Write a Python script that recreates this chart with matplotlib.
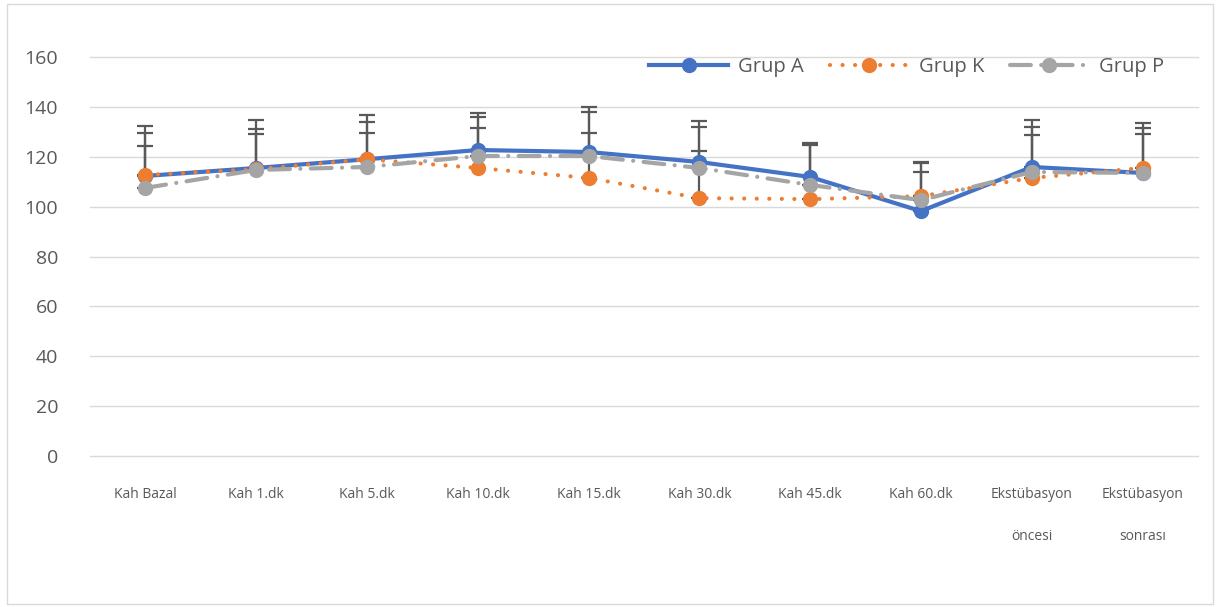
import matplotlib
matplotlib.use("Agg")
import matplotlib.pyplot as plt
from matplotlib.patches import Rectangle
import numpy as np

categories = ["Kah Bazal", "Kah 1.dk", "Kah 5.dk", "Kah 10.dk", "Kah 15.dk",
              "Kah 30.dk", "Kah 45.dk", "Kah 60.dk",
              "Ekstübasyon\n\nöncesi", "Ekstübasyon\n\nsonrası"]

grup_a = [112.3, 115.5, 119.0, 122.7, 121.9, 117.9, 111.9, 98.2, 115.9, 113.5]
grup_k = [112.7, 115.0, 119.0, 115.5, 111.5, 103.4, 103.0, 104.2, 111.5, 115.5]
grup_p = [107.5, 114.7, 115.9, 120.3, 120.3, 115.5, 108.7, 102.6, 113.9, 113.5]

# upper error-bar tops (read from caps)
top_a = [132.4, 134.8, 136.7, 137.4, 139.8, 134.4, 125.6, 117.9, 134.8, 133.6]
top_k = [124.4, 129.0, 129.6, 131.4, 129.6, 122.3, 124.7, 113.7, 128.9, 129.0]
top_p = [129.4, 131.3, 133.8, 136.0, 137.8, 132.0, 125.0, 117.5, 131.8, 131.4]

plt.rcParams['font.family'] = ['Open Sans', 'DejaVu Sans']

fig = plt.figure(figsize=(12.21, 6.07), dpi=100)
fig.patches.append(Rectangle((7/1221, 3/607), 1206/1221, 600/607, transform=fig.transFigure,
                             fill=False, edgecolor="#D9D9D9", linewidth=1))
ax = fig.add_axes([90/1221, (607-456)/607, (1198-90)/1221, 399/607])

x = np.arange(len(categories))
blue, orange, gray, errc = "#4472C4", "#ED7D31", "#A5A5A5", "#595959"

for vals, tops in ((grup_a, top_a), (grup_k, top_k), (grup_p, top_p)):
    ax.errorbar(x, vals, yerr=[np.zeros(len(vals)), np.array(tops) - np.array(vals)], fmt='none',
                ecolor=errc, elinewidth=1.6, capsize=6, capthick=1.6, zorder=2)

ax.plot(x, grup_a, color=blue, lw=3, marker='o', markersize=10, label="Grup A", zorder=3)
ax.plot(x, grup_k, color=orange, lw=3, linestyle=(0, (0.01, 3)), dash_capstyle='round',
        marker='o', markersize=10, label="Grup K", zorder=4)
ax.plot(x, grup_p, color=gray, lw=3, linestyle=(0, (5, 2.5, 0.01, 2.5)), dash_capstyle='round',
        marker='o', markersize=10, label="Grup P", zorder=5)

ax.set_xlim(-0.5, len(categories) - 0.5)
ax.set_ylim(0, 160)
ax.set_yticks(range(0, 161, 20))
ax.yaxis.grid(True, color="#D9D9D9", linewidth=1)
for gl in ax.yaxis.get_gridlines():
    gl.set_clip_on(False)
ax.set_axisbelow(True)
for s in ax.spines.values():
    s.set_visible(False)
ax.tick_params(axis='y', length=0, pad=23, labelsize=14, labelcolor="#595959")
ax.set_xticks(x)
ax.set_xticklabels(categories, fontsize=10, color="#595959", linespacing=1.55, va='top')
ax.tick_params(axis='x', length=0, pad=22)

leg = ax.legend(loc='center right', bbox_to_anchor=(1174/1221, (607-67)/607),
                bbox_transform=fig.transFigure, ncol=3, frameon=False, fontsize=14.5,
                handlelength=3.9, columnspacing=1.3, handletextpad=0.5, borderpad=0)
for t in leg.get_texts():
    t.set_color("#595959")

fig.savefig("out.png", dpi=100)
